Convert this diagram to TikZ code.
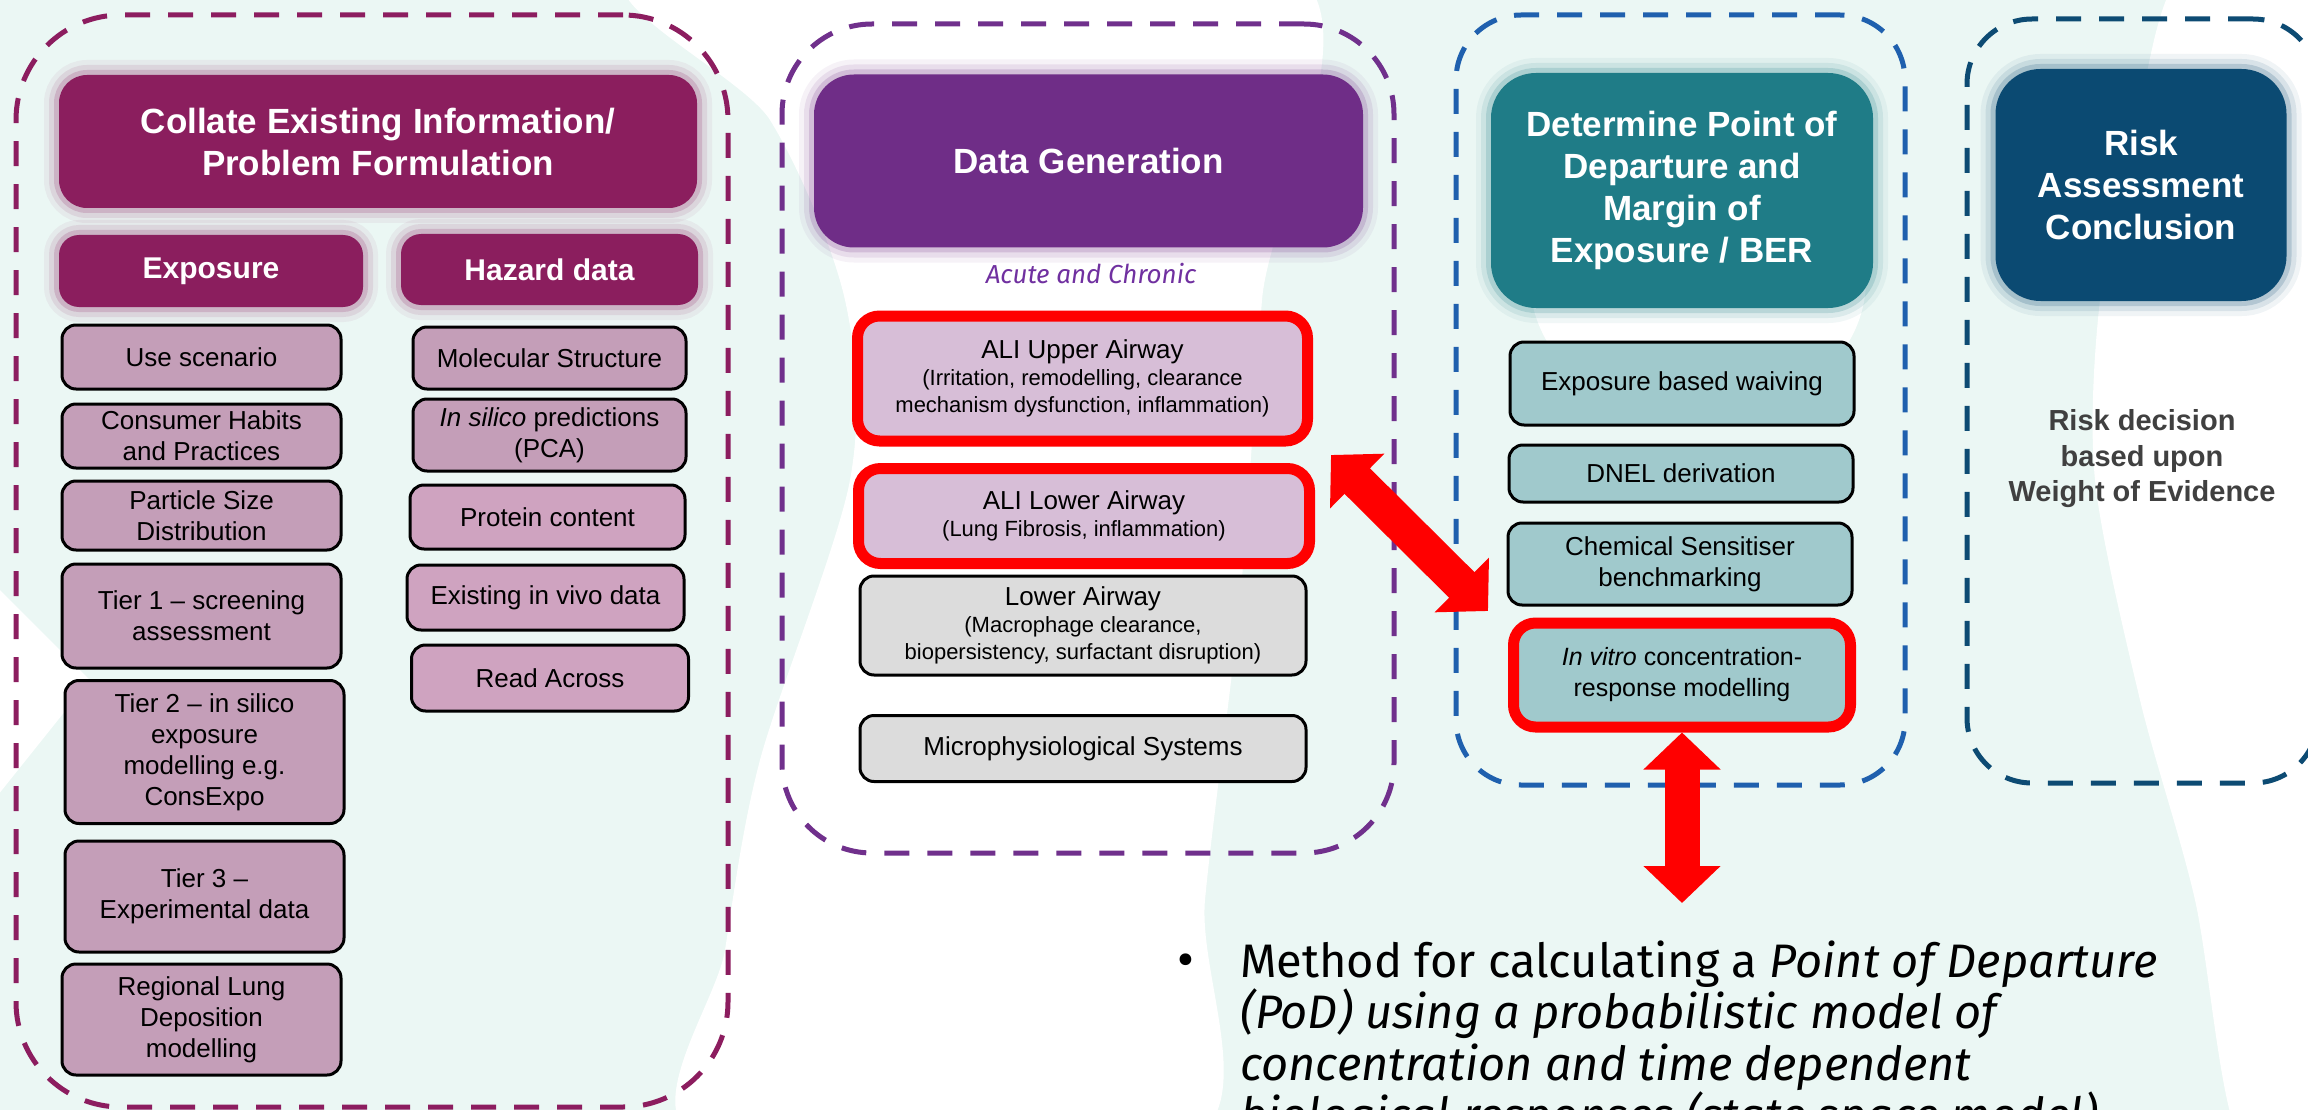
\documentclass[tikz,border=0pt]{standalone}
\usepackage{fontspec}
\setmainfont{Liberation Sans}
\newfontfamily\podfont{Fira Sans}
\usetikzlibrary{arrows.meta}

\definecolor{bgmint}{HTML}{EBF7F4}
\definecolor{colmaroon}{HTML}{8B1E5E}
\definecolor{colpurple}{HTML}{6F2D87}
\definecolor{colteal}{HTML}{1F7C87}
\definecolor{colnavy}{HTML}{0B4A72}
\definecolor{dashmaroon}{HTML}{8C1D5F}
\definecolor{dashpurple}{HTML}{70308C}
\definecolor{dashblue}{HTML}{1F60AE}
\definecolor{dashnavy}{HTML}{0D4B73}
\definecolor{itempink}{HTML}{C49EB8}
\definecolor{itemrose}{HTML}{CFA3C0}
\definecolor{itemlav}{HTML}{D7BED7}
\definecolor{itemgrey}{HTML}{DCDCDC}
\definecolor{itemteal}{HTML}{A0C9CC}
\definecolor{acutepurple}{HTML}{7030A0}
\definecolor{decisiongrey}{HTML}{404040}

\tikzset{glow/.style={preaction={draw=#1, draw opacity=.06, line width=30pt}, preaction={draw=#1, draw opacity=.1, line width=20pt}, preaction={draw=#1, draw opacity=.18, line width=10pt}}}
\tikzstyle{panel} = [rectangle, dash pattern=on 25pt off 18pt, line width=5pt, inner sep=0pt]
\tikzstyle{header} = [rectangle, text=white, align=center, inner sep=0pt, font=\fontsize{35}{42}\selectfont\bfseries]
\tikzstyle{subheader} = [header, rounded corners=20pt, fill=colmaroon, glow=colmaroon, font=\fontsize{30}{36}\selectfont\bfseries]
\tikzstyle{item} = [rectangle, rounded corners=14pt, draw=black, line width=3pt, align=center, inner sep=0pt, font=\fontsize{26}{31}\selectfont]
\tikzstyle{hiitem} = [item, draw=red, line width=11pt, rounded corners=22pt, font=\fontsize{22}{27}\selectfont]
\tikzstyle{bigarrow} = [draw=red, line width=36pt, {Triangle[length=37pt,width=75pt]}-{Triangle[length=37pt,width=75pt]}]

\begin{document}
\begin{tikzpicture}[x=1pt, y=-1pt]
\clip (0,0) rectangle (2308,1110);

% Background
\fill[bgmint] (0,0) rectangle (2308,1110);
\fill[white] plot[smooth cycle] coordinates {(640,-30) (1290,-30) (1262,300) (1240,600) (1205,900) (1190,1140) (700,1140) (725,950) (760,760) (850,480) (845,300) (770,120)};
\fill[white] plot[smooth cycle] coordinates {(2185,-30) (2340,-30) (2340,1140) (2240,1140) (2195,900) (2140,700) (2095,480) (2100,300) (2135,130)};
\fill[white] (-30,560) -- (90,680) -- (-30,830) -- cycle;
\fill[white] (1698,280) ellipse [x radius=168pt, y radius=140pt];

% Define panels
\node (colpanel) [panel, draw=dashmaroon, rounded corners=105pt, minimum width=712pt, minimum height=1092pt] at (372,561) {};
\node (datapanel) [panel, draw=dashpurple, rounded corners=90pt, minimum width=612pt, minimum height=829pt] at (1088,438.5) {};
\node (podpanel) [panel, draw=dashblue, rounded corners=65pt, minimum width=449pt, minimum height=770pt] at (1680.5,400) {};
\node (riskpanel) [panel, draw=dashnavy, rounded corners=65pt, minimum width=351pt, minimum height=764pt] at (2142.5,401) {};

% Define headers
\node (colhdr) [header, rounded corners=28pt, fill=colmaroon, glow=colmaroon, minimum width=638pt, minimum height=133pt] at (378,141.5) {Collate Existing Information/\\Problem Formulation};
\node (exphdr) [subheader, minimum width=304pt, minimum height=72pt] at (211,271) {Exposure};
\node (hazhdr) [subheader, minimum width=297pt, minimum height=71pt] at (549.5,269.5) {Hazard data};
\node (datahdr) [header, rounded corners=40pt, fill=colpurple, glow=colpurple, minimum width=549pt, minimum height=173pt] at (1088.5,161) {Data Generation};
\node (podhdr) [header, rounded corners=45pt, fill=colteal, glow=colteal, minimum width=382pt, minimum height=235pt] at (1682,190.5) {Determine Point of\\Departure and\\Margin of\\Exposure / BER};
\node (riskhdr) [header, rounded corners=45pt, fill=colnavy, glow=colnavy, minimum width=291pt, minimum height=232pt] at (2141,185) {Risk\\Assessment\\Conclusion};

% Exposure items
\node (usescn) [item, fill=itempink, minimum width=279pt, minimum height=64pt] at (201.5,357) {Use scenario};
\node (habits) [item, fill=itempink, minimum width=279pt, minimum height=64pt] at (201.5,436) {Consumer Habits\\and Practices};
\node (particle) [item, fill=itempink, minimum width=279pt, minimum height=69pt] at (201.5,515.5) {Particle Size\\Distribution};
\node (tier1) [item, fill=itempink, minimum width=279pt, minimum height=104pt] at (201.5,616) {Tier 1 -- screening\\assessment};
\node (tier2) [item, fill=itempink, minimum width=279pt, minimum height=143pt] at (204.5,752) {Tier 2 -- in silico\\exposure\\modelling e.g.\\ConsExpo};
\node (tier3) [item, fill=itempink, minimum width=279pt, minimum height=111pt] at (204.5,896.5) {Tier 3 --\\Experimental data};
\node (deposition) [item, fill=itempink, minimum width=279pt, minimum height=111pt] at (201.5,1019.5) {Regional Lung\\Deposition\\modelling};

% Hazard items
\node (molstruct) [item, fill=itempink, minimum width=273pt, minimum height=62pt] at (549.5,358) {Molecular Structure};
\node (insilico) [item, fill=itempink, minimum width=273pt, minimum height=72pt] at (549.5,435) {\textit{In silico} predictions\\(PCA)};
\node (protein) [item, fill=itemrose, minimum width=275pt, minimum height=64pt] at (547.5,517) {Protein content};
\node (invivo) [item, fill=itemrose, minimum width=277pt, minimum height=65pt] at (545.5,597.5) {Existing in vivo data};
\node (readacross) [item, fill=itemrose, minimum width=277pt, minimum height=66pt] at (550,678) {Read Across};

% Data generation items
\node (acutelbl) [text=acutepurple, font=\podfont\itshape\fontsize{26}{30}\selectfont] at (1091,274) {Acute and Chronic};
\node (aliup) [hiitem, fill=itemlav, minimum width=450pt, minimum height=125pt] at (1082.5,378.5) {{\fontsize{26}{29}\selectfont ALI Upper Airway}\\(Irritation, remodelling, clearance\\mechanism dysfunction, inflammation)};
\node (alilow) [hiitem, fill=itemlav, minimum width=451pt, minimum height=95pt] at (1084,516) {{\fontsize{26}{29}\selectfont ALI Lower Airway}\\(Lung Fibrosis, inflammation)};
\node (lowair) [item, fill=itemgrey, minimum width=446pt, minimum height=99pt, font=\fontsize{22}{27}\selectfont] at (1083,625.5) {{\fontsize{26}{29}\selectfont Lower Airway}\\(Macrophage clearance,\\biopersistency, surfactant disruption)};
\node (mps) [item, fill=itemgrey, minimum width=446pt, minimum height=66pt] at (1083,748.5) {Microphysiological Systems};

% Point of departure items
\node (waiving) [item, fill=itemteal, minimum width=344pt, minimum height=83pt] at (1682,383.5) {Exposure based waiving};
\node (dnel) [item, fill=itemteal, minimum width=344pt, minimum height=57pt] at (1681,473.5) {DNEL derivation};
\node (sensitiser) [item, fill=itemteal, minimum width=344pt, minimum height=82pt] at (1680,564) {Chemical Sensitiser\\benchmarking};
\node (invitro) [hiitem, fill=itemteal, minimum width=337pt, minimum height=104pt, font=\fontsize{25}{31}\selectfont] at (1682,675) {\textit{In vitro} concentration-\\response modelling};

% Risk conclusion
\node (decision) [align=center, text=decisiongrey, font=\fontsize{29}{35.5}\selectfont\bfseries] at (2142,459) {Risk decision\\based upon\\Weight of Evidence};

% Method text
\coordinate (podtip) at (1682,903);
\node (podtext) [anchor=base west, align=left, inner sep=0pt, font=\podfont\fontsize{47}{51.5}\selectfont] at (1240,1131.5) {Method for calculating a \textit{Point of Departure}\\\textit{(PoD) using a probabilistic model of}\\\textit{concentration and time dependent}\\\textit{biological responses (state space model)}};
\node (podbullet) [anchor=base, inner sep=0pt, font=\podfont\fontsize{52}{51}\selectfont] at (1186,977) {\textbullet};

% Draw arrows
\draw [bigarrow] ([shift={(16,-8)}]alilow.north east) -- ([shift={(-20,-6.5)}]invitro.north west);
\draw [bigarrow, line width=35pt] (invitro.south) -- (podtip);

\end{tikzpicture}
\end{document}
